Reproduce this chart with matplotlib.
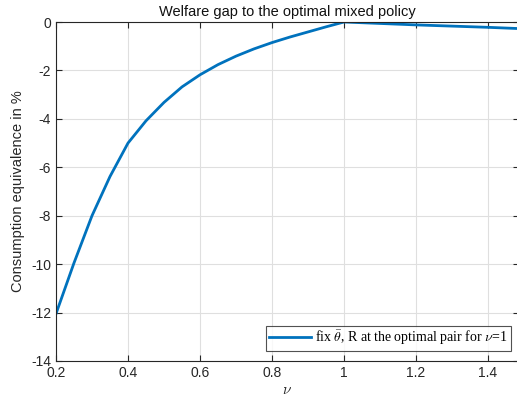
import matplotlib
matplotlib.use("Agg")
import matplotlib.pyplot as plt

plt.rcParams['font.family'] = ['Liberation Sans', 'DejaVu Sans']
plt.rcParams['mathtext.fontset'] = 'cm'
plt.rcParams['axes.unicode_minus'] = False

# welfare gap (consumption equivalence, %) against nu
nu = [0.2, 0.25, 0.3, 0.35, 0.4, 0.45, 0.5, 0.55, 0.6, 0.65, 0.7, 0.75,
      0.8, 0.85, 0.9, 0.95, 1.0, 1.1, 1.2, 1.3, 1.4, 1.5]
gap = [-12.05, -9.95, -8.0, -6.38, -5.0, -4.08, -3.32, -2.68, -2.18, -1.76,
       -1.41, -1.11, -0.85, -0.62, -0.41, -0.2, 0.0, -0.06, -0.12, -0.17,
       -0.22, -0.28]

ax_color = '#262626'
fig = plt.figure(figsize=(5.17, 3.96), dpi=100)
ax = fig.add_axes([56/517, 1 - 361/396, 463/517, 339/396])

ax.plot(nu, gap, color='#0072BD', linewidth=2,
        label=r'fix $\bar{\theta}$, R at the optimal pair for $\nu$=1')

ax.set_xlim(0.2, 1.486)
ax.set_ylim(-14, 0)
ax.set_xticks([0.2, 0.4, 0.6, 0.8, 1.0, 1.2, 1.4])
ax.set_xticklabels(['0.2', '0.4', '0.6', '0.8', '1', '1.2', '1.4'])
ax.set_yticks(range(-14, 1, 2))
ax.grid(True, color='#dfdfdf', linewidth=0.8)
ax.set_axisbelow(True)
ax.tick_params(direction='in', top=True, right=True, length=4,
               colors=ax_color, labelsize=10, width=0.8)
for s in ax.spines.values():
    s.set_color(ax_color)
    s.set_linewidth(0.8)

ax.set_title('Welfare gap to the optimal mixed policy', fontsize=10.5,
             color='#111111', pad=4)
ax.set_ylabel('Consumption equivalence in %', fontsize=10.5, color=ax_color)
ax.set_xlabel(r'$\nu$', fontsize=11, color=ax_color, labelpad=2)

leg = ax.legend(loc='lower right', frameon=True, fancybox=False,
                edgecolor=ax_color, borderpad=0.25, handlelength=3.0,
                handletextpad=0.3, bbox_to_anchor=(0.983, 0.03),
                borderaxespad=0, prop={'family': 'Liberation Serif', 'size': 10})
leg.get_frame().set_linewidth(0.8)

fig.savefig('out.png', dpi=100)
